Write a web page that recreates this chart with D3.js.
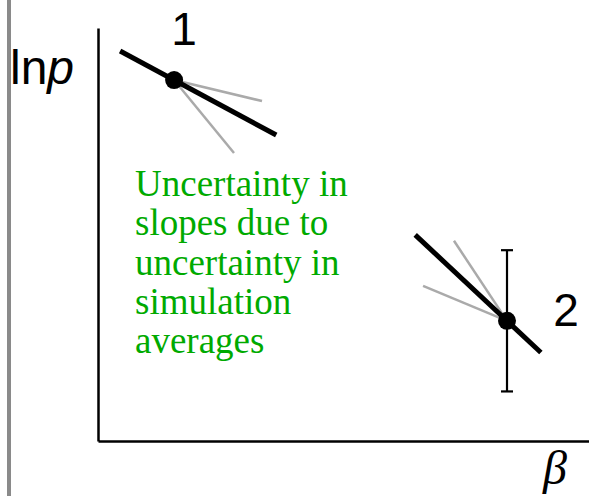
<!DOCTYPE html>
<html>
<head>
<meta charset="utf-8">
<script src="https://cdn.jsdelivr.net/npm/d3@7"></script>
<style>
  html, body { margin: 0; padding: 0; background: #fff; }
  svg { display: block; }
</style>
</head>
<body>
<svg id="chart" width="589" height="496"></svg>
<script>
// Two simulation state points on a ln p vs beta diagram
const pointLabels = ["1", "2"];
const pointBeta = [1.55, 8.33];
const pointLnp = [8.74, 2.91];

// Fitted tangent (black) through each point: slope and beta extent
const fitSlope = [-0.640, -1.113];
const fitBetaStart = [0.45, 6.46];
const fitBetaEnd = [3.63, 9.02];

// Alternative slopes (grey) showing the slope uncertainty
const altSlopes = [[-0.284, -1.447], [-1.794, -0.495]];
const altBetaEnd = [[3.34, 2.77], [7.25, 6.62]];

// Error bar half-width on ln p (only point 2 carries one)
const lnpError = [0, 1.71];

const noteLines = ["Uncertainty in", "slopes due to", "uncertainty in", "simulation", "averages"];

(function draw() {
  const svg = d3.select("#chart");
  const W = 589, H = 496;
  const mLeft = 98, mRight = 589, mTop = 28, mBottom = 441;

  const x = d3.scaleLinear().domain([0, 10]).range([mLeft, mRight]);
  const y = d3.scaleLinear().domain([0, 10]).range([mBottom, mTop]);

  // Grey bar along the left edge
  svg.append("rect").attr("x", 7).attr("y", 0).attr("width", 4).attr("height", H).attr("fill", "#8a8a8a");

  // Axes without ticks
  const ax = svg.append("g").attr("transform", `translate(0,${mBottom})`)
    .call(d3.axisBottom(x).tickValues([]).tickSizeOuter(0));
  const ay = svg.append("g").attr("transform", `translate(${mLeft},0)`)
    .call(d3.axisLeft(y).tickValues([]).tickSizeOuter(0));
  [ax, ay].forEach(g => g.select(".domain").attr("stroke", "#000").attr("stroke-width", 2.5));

  const line = d3.line().x(d => x(d[0])).y(d => y(d[1]));

  pointLabels.forEach((lab, i) => {
    const b0 = pointBeta[i], p0 = pointLnp[i];
    // grey alternative slopes
    altSlopes[i].forEach((s, j) => {
      const be = altBetaEnd[i][j];
      svg.append("path").attr("d", line([[b0, p0], [be, p0 + s * (be - b0)]]))
        .attr("stroke", "#aaaaaa").attr("stroke-width", 2.5).attr("fill", "none");
    });
    // black fitted slope
    const s = fitSlope[i];
    svg.append("path")
      .attr("d", line([[fitBetaStart[i], p0 + s * (fitBetaStart[i] - b0)], [fitBetaEnd[i], p0 + s * (fitBetaEnd[i] - b0)]]))
      .attr("stroke", "#000").attr("stroke-width", 5).attr("fill", "none");
    // error bar
    if (lnpError[i] > 0) {
      const e = lnpError[i];
      svg.append("path").attr("d", line([[b0, p0 - e], [b0, p0 + e]]))
        .attr("stroke", "#000").attr("stroke-width", 2.2).attr("fill", "none");
      [p0 - e, p0 + e].forEach(v => {
        svg.append("line").attr("x1", x(b0) - 6).attr("x2", x(b0) + 6)
          .attr("y1", y(v)).attr("y2", y(v)).attr("stroke", "#000").attr("stroke-width", 2.2);
      });
    }
    // point
    svg.append("circle").attr("cx", x(b0)).attr("cy", y(p0)).attr("r", 9).attr("fill", "#000");
  });

  // Point labels
  const labelFont = "'Liberation Sans', Arial, Helvetica, sans-serif";
  svg.append("text").attr("x", x(pointBeta[0]) + 10).attr("y", y(pointLnp[0]) - 35)
    .attr("text-anchor", "middle").attr("font-family", labelFont).attr("font-size", 46).text(pointLabels[0]);
  svg.append("text").attr("x", x(pointBeta[1]) + 59).attr("y", y(pointLnp[1]) + 5)
    .attr("text-anchor", "middle").attr("font-family", labelFont).attr("font-size", 46).text(pointLabels[1]);

  // Axis titles
  const yl = svg.append("text").attr("x", 10).attr("y", 84)
    .attr("font-family", labelFont).attr("font-size", 48);
  yl.append("tspan").text("ln");
  yl.append("tspan").attr("font-style", "italic").text("p");

  svg.append("text").attr("x", 555).attr("y", 484).attr("text-anchor", "middle")
    .attr("font-family", "'Liberation Serif', 'Times New Roman', serif").attr("font-style", "italic")
    .attr("font-size", 48).text("β");

  // Annotation
  const note = svg.append("text").attr("x", 135).attr("y", 196)
    .attr("font-family", "'Liberation Serif', 'Times New Roman', serif").attr("font-size", 37)
    .attr("fill", "#00aa00");
  noteLines.forEach((t, i) => {
    note.append("tspan").attr("x", 135).attr("dy", i === 0 ? 0 : 39.3).text(t);
  });
})();
</script>
</body>
</html>
